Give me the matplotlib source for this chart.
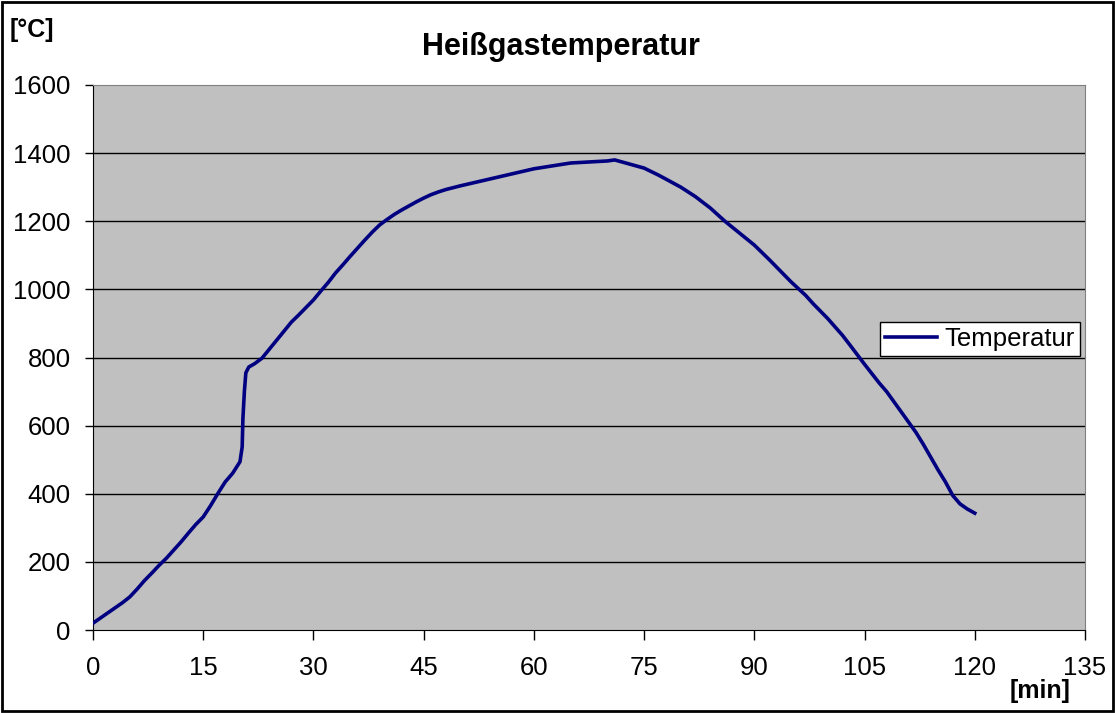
import matplotlib.pyplot as plt
import matplotlib.patches as patches

plt.rcParams['font.family'] = ['Liberation Sans', 'DejaVu Sans']

# Zeit [min] und Heißgastemperatur [°C]
zeit = [0, 1, 2, 3, 4, 5, 6, 7, 8, 9, 10, 11, 12, 13, 14, 15, 16, 17, 18, 19,
        20, 20.3, 20.4, 20.6, 20.8, 21.2, 22, 23, 25, 27, 28, 30, 31, 32, 33,
        34, 35, 36, 37, 38, 39, 40, 41, 42, 43, 44, 45, 46, 47, 48, 50, 52,
        55, 57, 60, 65, 70, 71, 75, 77, 80, 82, 84, 86, 88, 90, 92, 95, 97,
        98, 100, 102, 103, 105, 107, 108, 110, 112, 113, 115, 116, 117, 118,
        119, 120]
temperatur = [20, 35, 50, 65, 80, 97, 120, 145, 167, 190, 211, 235, 259, 285,
              310, 332, 365, 401, 435, 460, 494, 537, 620, 700, 755, 772, 782,
              798, 851, 904, 925, 969, 995, 1020, 1048, 1072, 1097, 1121, 1145,
              1168, 1189, 1205, 1220, 1233, 1245, 1257, 1268, 1278, 1286, 1293,
              1304, 1314, 1329, 1339, 1354, 1371, 1377, 1380, 1356, 1335, 1300,
              1272, 1239, 1200, 1165, 1130, 1088, 1022, 982, 958, 914, 865, 837,
              780, 725, 700, 640, 580, 545, 470, 435, 395, 370, 355, 343]

x_ticks = [0, 15, 30, 45, 60, 75, 90, 105, 120, 135]
y_ticks = [0, 200, 400, 600, 800, 1000, 1200, 1400, 1600]

fig = plt.figure(figsize=(11.15, 7.13), dpi=100)
ax = fig.add_axes([93 / 1115, 1 - 630 / 713, 992 / 1115, 545 / 713])
ax.set_facecolor('#C0C0C0')

ax.plot(zeit, temperatur, color='#000080', linewidth=2.6, label='Temperatur', zorder=3)

ax.set_xlim(0, 135)
ax.set_ylim(0, 1600)
ax.set_xticks(x_ticks)
ax.set_yticks(y_ticks)
ax.tick_params(axis='both', labelsize=18.5, direction='out', width=1, colors='black')
ax.tick_params(axis='x', length=7, pad=12)
ax.tick_params(axis='y', length=6, pad=10)

# Gitterlinien
for y in y_ticks[1:-1]:
    ax.axhline(y, color='black', linewidth=1, zorder=1)

ax.spines['top'].set_color('#808080')
ax.spines['right'].set_color('#808080')
ax.spines['left'].set_color('black')
ax.spines['bottom'].set_color('black')

leg = ax.legend(loc='upper left', bbox_to_anchor=(787 / 992, 1 - 237 / 545),
                fontsize=18.5, frameon=True, fancybox=False, framealpha=1,
                edgecolor='black', handlelength=2.0, handletextpad=0.3,
                borderpad=0.2, borderaxespad=0)
leg.get_frame().set_linewidth(1)

fig.text(561 / 1115, 1 - 47 / 713, 'Heißgastemperatur', ha='center', va='center',
         fontsize=22, fontweight='bold')
fig.text(10 / 1115, 1 - 30 / 713, '[°C]', ha='left', va='center',
         fontsize=18, fontweight='bold')
fig.text(1040 / 1115, 1 - 691 / 713, '[min]', ha='center', va='center',
         fontsize=18, fontweight='bold')

# Rahmen um das ganze Bild
fig.patches.append(patches.Rectangle((0.002, 0.003), 0.996, 0.994, transform=fig.transFigure,
                                     fill=False, edgecolor='black', linewidth=2))

fig.savefig('out.png', dpi=100)
